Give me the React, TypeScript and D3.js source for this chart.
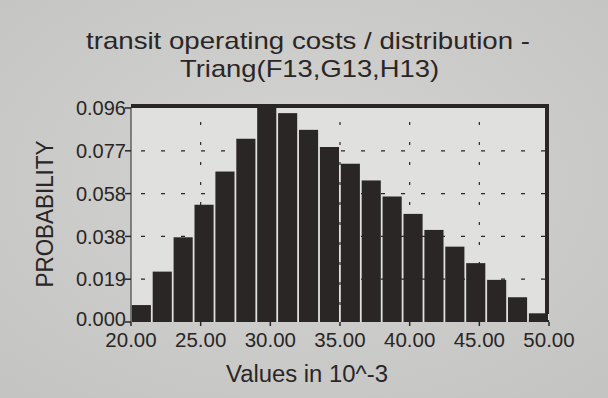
import React from "react";
import * as d3 from "d3";

const titleLines = ["transit operating costs / distribution -", "Triang(F13,G13,H13)"];
const yAxisTitle = "PROBABILITY";
const xAxisTitle = "Values in 10^-3";

const binEdges = [20, 21.5, 23, 24.5, 26, 27.5, 29, 30.5, 32, 33.5, 35, 36.5, 38, 39.5, 41, 42.5, 44, 45.5, 47, 48.5, 50];
const probabilities = [0.0076, 0.0226, 0.038, 0.0526, 0.0675, 0.0822, 0.096, 0.0937, 0.0862, 0.0785, 0.071, 0.0635, 0.0563, 0.0485, 0.0413, 0.0338, 0.0264, 0.0189, 0.0111, 0.0039];

const yTicks = [0, 0.0192, 0.0384, 0.0576, 0.0768, 0.096];
const yTickLabels = ["0.000", "0.019", "0.038", "0.058", "0.077", "0.096"];
const xTicks = [20, 25, 30, 35, 40, 45, 50];
const xTickLabels = ["20.00", "25.00", "30.00", "35.00", "40.00", "45.00", "50.00"];

const W = 608;
const H = 398;
const plot = { left: 131, right: 549, top: 108, bottom: 322 };
const FONT = "'Liberation Sans', Arial, Helvetica, sans-serif";
const INK = "#2a2626";

export default function App() {
  const x = d3.scaleLinear().domain([20, 50]).range([plot.left, plot.right]);
  const y = d3.scaleLinear().domain([0, 0.096]).range([plot.bottom, plot.top]);

  return (
    <svg
      width={W}
      height={H}
      style={{ position: "absolute", left: 0, top: 0, display: "block" }}
      fontFamily={FONT}
    >
      <defs>
        <radialGradient id="bg" cx="50%" cy="45%" r="75%">
          <stop offset="0%" stopColor="#d4d4d2" />
          <stop offset="100%" stopColor="#c3c3c1" />
        </radialGradient>
      </defs>
      <rect x={0} y={0} width={W} height={H} fill="url(#bg)" />

      {/* title */}
      <text
        x={308}
        y={48.5}
        textAnchor="middle"
        fontSize={24}
        fill={INK}
        textLength={444}
        lengthAdjust="spacingAndGlyphs"
      >
        {titleLines[0]}
      </text>
      <text
        x={309.5}
        y={77}
        textAnchor="middle"
        fontSize={24}
        fill={INK}
        textLength={259}
        lengthAdjust="spacingAndGlyphs"
      >
        {titleLines[1]}
      </text>

      {/* plot background */}
      <rect
        x={plot.left}
        y={plot.top}
        width={plot.right - plot.left}
        height={plot.bottom - plot.top}
        fill="#e0e0de"
      />

      {/* grid */}
      {yTicks
        .filter((t) => t > 0 && t < 0.096)
        .map((t, i) => (
          <line
            key={"gy" + i}
            x1={plot.left + 2}
            x2={plot.right - 3}
            y1={y(t)}
            y2={y(t)}
            stroke={INK}
            strokeWidth={1.2}
            strokeDasharray="4 16"
            strokeDashoffset={-8}
          />
        ))}
      {xTicks
        .filter((t) => t > 20 && t < 50)
        .map((t, i) => (
          <line
            key={"gx" + i}
            x1={x(t)}
            x2={x(t)}
            y1={plot.top + 4}
            y2={plot.bottom}
            stroke={INK}
            strokeWidth={1.2}
            strokeDasharray="3 17"
            strokeDashoffset={-10}
          />
        ))}

      {/* bars */}
      {probabilities.map((p, i) => {
        const x0 = x(binEdges[i]);
        const x1 = x(binEdges[i + 1]);
        return (
          <rect
            key={"b" + i}
            x={x0 + 0.8}
            y={y(p)}
            width={x1 - x0 - 1.8}
            height={plot.bottom - y(p)}
            fill={INK}
          />
        );
      })}

      {/* frame */}
      <line x1={plot.left} x2={plot.left} y1={plot.top} y2={plot.bottom} stroke={INK} strokeWidth={1} />
      <line x1={plot.left} x2={plot.right} y1={plot.top - 2} y2={plot.top - 2} stroke={INK} strokeWidth={4} />
      <line x1={plot.right - 2} x2={plot.right - 2} y1={plot.top - 4} y2={plot.bottom - 8} stroke={INK} strokeWidth={4} />
      <line
        x1={x(binEdges[19]) + 0.8}
        x2={plot.right}
        y1={plot.bottom - 1}
        y2={plot.bottom - 1}
        stroke={INK}
        strokeWidth={2}
      />

      {/* y axis ticks & labels */}
      {yTicks.map((t, i) => (
        <g key={"yt" + i}>
          <line x1={plot.left - 6} x2={plot.left} y1={y(t)} y2={y(t)} stroke={INK} strokeWidth={1.5} />
          <text
            x={plot.left - 5}
            y={y(t) - (t === 0 ? 3 : 0)}
            dy="0.36em"
            textAnchor="end"
            fontSize={20}
            fill={INK}
          >
            {yTickLabels[i]}
          </text>
        </g>
      ))}

      {/* x axis ticks & labels */}
      {xTicks.map((t, i) => (
        <g key={"xt" + i}>
          <line x1={x(t)} x2={x(t)} y1={plot.bottom} y2={plot.bottom + 4} stroke={INK} strokeWidth={1.5} />
          <text x={x(t)} y={346.5} textAnchor="middle" fontSize={20.5} fill={INK}>
            {xTickLabels[i]}
          </text>
        </g>
      ))}

      {/* axis titles */}
      <text
        x={307}
        y={382}
        textAnchor="middle"
        fontSize={23}
        fill={INK}
        textLength={162}
        lengthAdjust="spacingAndGlyphs"
      >
        {xAxisTitle}
      </text>
      <text
        transform={`translate(53, 214) rotate(-90)`}
        textAnchor="middle"
        fontSize={23}
        fill={INK}
        textLength={147}
        lengthAdjust="spacingAndGlyphs"
      >
        {yAxisTitle}
      </text>
    </svg>
  );
}
